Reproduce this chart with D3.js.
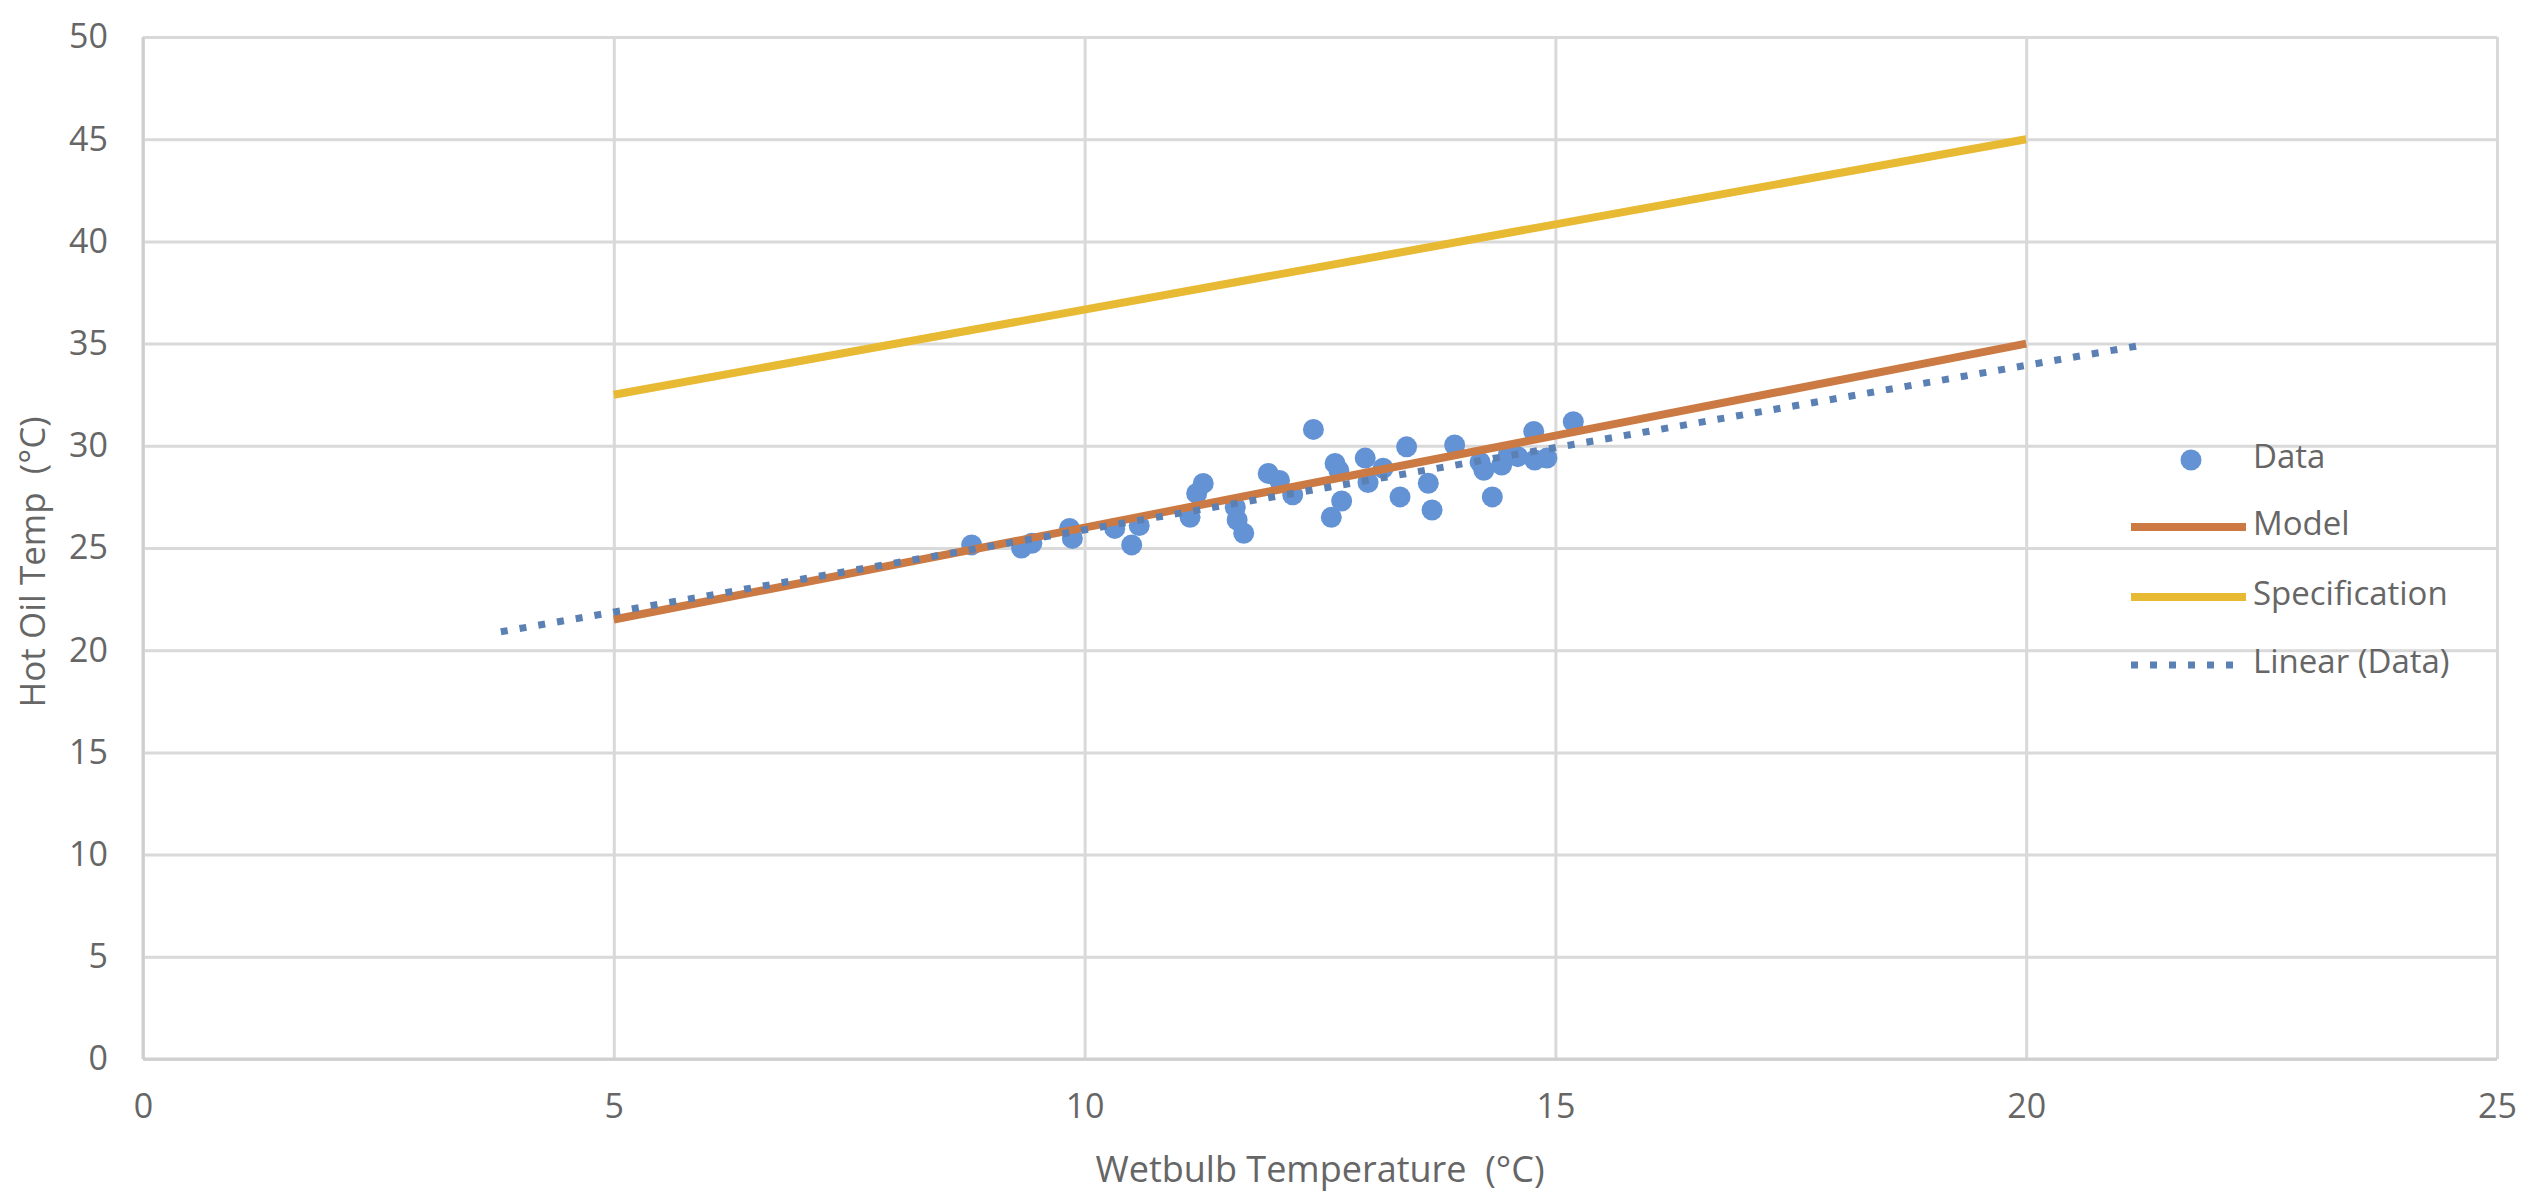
<!DOCTYPE html>
<html>
<head>
<meta charset="utf-8">
<script src="https://cdn.jsdelivr.net/npm/d3@7"></script>
<style>
  html, body { margin: 0; padding: 0; background: #fff; }
  svg { display: block; }
  text { font-family: "Open Sans", "Noto Sans", sans-serif; fill: #666; }
</style>
</head>
<body>
<svg id="chart" width="2528" height="1193"></svg>
<script>
// ---- Data ----
const dataX = [8.80, 9.33, 9.44, 9.84, 9.87, 10.32, 10.50, 10.58, 11.12, 11.19, 11.26, 11.60, 11.62, 11.69,
               11.95, 12.07, 12.21, 12.43, 12.62, 12.73, 12.66, 12.70, 12.98, 13.01, 13.17, 13.35, 13.42,
               13.65, 13.69, 13.93, 14.24, 14.20, 14.33, 14.43, 14.50, 14.60, 14.77, 14.78, 14.91, 15.19];
const dataY = [25.15, 25.00, 25.23, 25.96, 25.47, 25.96, 25.15, 26.10, 26.50, 27.67, 28.16, 27.00, 26.37, 25.72,
               28.65, 28.30, 27.60, 30.80, 26.50, 27.30, 29.14, 28.80, 29.40, 28.20, 28.90, 27.50, 29.95,
               28.17, 26.86, 30.04, 28.80, 29.20, 27.50, 29.06, 29.55, 29.47, 30.70, 29.30, 29.40, 31.18];
const modelX = [5, 20];
const modelY = [21.5, 35];
const specX = [5, 20];
const specY = [32.5, 45];
const trendX = [3.8, 21.2];
const trendY = [20.9, 34.9];
const xTicks = [0, 5, 10, 15, 20, 25];
const yTicks = [0, 5, 10, 15, 20, 25, 30, 35, 40, 45, 50];
const legendLabels = ["Data", "Model", "Specification", "Linear (Data)"];
const xTitle = "Wetbulb Temperature\u00a0\u00a0(°C)";
const yTitle = "Hot Oil Temp\u00a0\u00a0(°C)";

// ---- Layout ----
const svg = d3.select("#chart");
const pLeft = 143, pRight = 2497, pTop = 37, pBottom = 1059;
const x = d3.scaleLinear().domain([0, 25]).range([pLeft, pRight]);
const y = d3.scaleLinear().domain([0, 50]).range([pBottom, pTop]);

const colData = "#6393d5", colModel = "#cc7a44", colSpec = "#e8b932", colTrend = "#5b80b4";
const gridCol = "#d9d9d9";

svg.append("rect").attr("width", 2528).attr("height", 1193).attr("fill", "#fff");

// Grid + axes
const gy = svg.append("g").attr("transform", `translate(${pLeft},0)`)
  .call(d3.axisLeft(y).tickValues(yTicks).tickSize(-(pRight - pLeft)).tickPadding(35).tickFormat(d3.format("d")));
gy.select(".domain").remove();
gy.selectAll("line").attr("stroke", gridCol).attr("stroke-width", 3);
gy.selectAll("text").style("font-size", "34px").attr("fill", "#666");

const gx = svg.append("g").attr("transform", `translate(0,${pBottom})`)
  .call(d3.axisBottom(x).tickValues(xTicks).tickSize(-(pBottom - pTop)).tickPadding(35).tickFormat(d3.format("d")));
gx.select(".domain").remove();
gx.selectAll("line").attr("stroke", gridCol).attr("stroke-width", 3);
gx.selectAll("text").style("font-size", "34px").attr("fill", "#666");

// axis lines (slightly darker)
svg.append("line").attr("x1", pLeft).attr("x2", pLeft).attr("y1", pTop).attr("y2", pBottom)
  .attr("stroke", "#cfcfcf").attr("stroke-width", 3);
svg.append("line").attr("x1", pLeft).attr("x2", pRight).attr("y1", pBottom).attr("y2", pBottom)
  .attr("stroke", "#cfcfcf").attr("stroke-width", 3);

// Lines
const line = d3.line().x(d => x(d[0])).y(d => y(d[1]));
svg.append("path").datum(specX.map((v, i) => [v, specY[i]])).attr("d", line)
  .attr("fill", "none").attr("stroke", colSpec).attr("stroke-width", 8);

// Data points
svg.append("g").selectAll("circle").data(dataX.map((v, i) => [v, dataY[i]])).join("circle")
  .attr("cx", d => x(d[0])).attr("cy", d => y(d[1])).attr("r", 10.5).attr("fill", colData);

svg.append("path").datum(modelX.map((v, i) => [v, modelY[i]])).attr("d", line)
  .attr("fill", "none").attr("stroke", colModel).attr("stroke-width", 8);

svg.append("path").datum(trendX.map((v, i) => [v, trendY[i]])).attr("d", line)
  .attr("fill", "none").attr("stroke", colTrend).attr("stroke-width", 7)
  .attr("stroke-dasharray", "7 12");

// Axis titles
svg.append("text").attr("x", 1320).attr("y", 1182).attr("text-anchor", "middle")
  .style("font-size", "36px").text(xTitle);
svg.append("text").attr("transform", `translate(45,562) rotate(-90)`)
  .attr("text-anchor", "middle").style("font-size", "35px").text(yTitle);

// Legend
const lg = svg.append("g");
const ly = [460, 527, 597, 665];
const lx0 = 2131, lx1 = 2246, ltx = 2253;
lg.append("circle").attr("cx", 2191).attr("cy", ly[0]).attr("r", 10.5).attr("fill", colData);
lg.append("line").attr("x1", lx0).attr("x2", lx1).attr("y1", ly[1]).attr("y2", ly[1])
  .attr("stroke", colModel).attr("stroke-width", 8);
lg.append("line").attr("x1", lx0).attr("x2", lx1).attr("y1", ly[2]).attr("y2", ly[2])
  .attr("stroke", colSpec).attr("stroke-width", 8);
lg.append("line").attr("x1", lx0).attr("x2", lx1 - 6).attr("y1", ly[3]).attr("y2", ly[3])
  .attr("stroke", colTrend).attr("stroke-width", 7).attr("stroke-dasharray", "7 12");
legendLabels.forEach((t, i) => {
  lg.append("text").attr("x", ltx).attr("y", ly[i] - 4).attr("dy", "0.35em")
    .style("font-size", "33px").text(t);
});
</script>
</body>
</html>
